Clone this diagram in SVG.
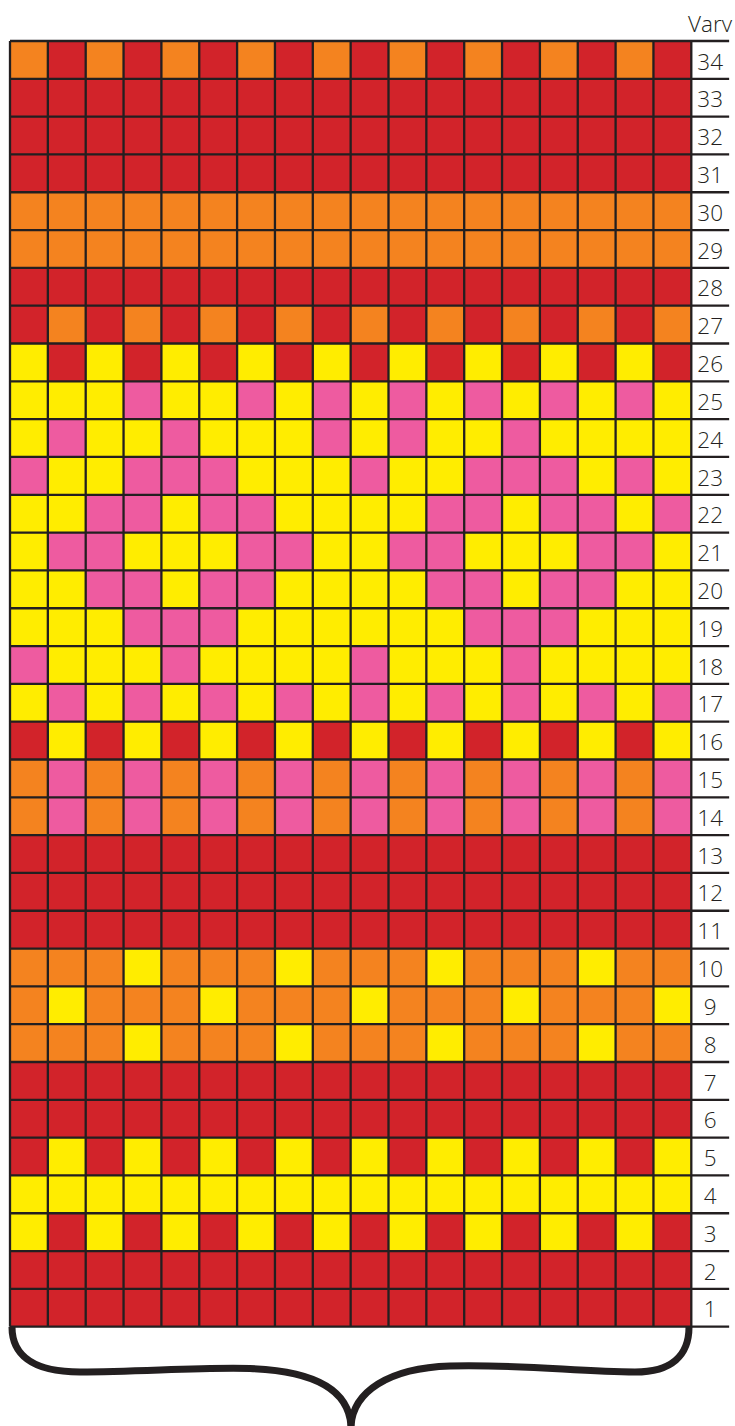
<svg xmlns="http://www.w3.org/2000/svg" width="735" height="1426" viewBox="0 0 735 1426">
<style>
.r{fill:#D2232A}.o{fill:#F4831F}.y{fill:#FFED00}.p{fill:#EE5BA0}
.grid{fill:none;stroke:#231F20;stroke-width:2.3}
.num{font-family:"Open Sans","Liberation Sans",sans-serif;font-weight:300;font-size:22.5px;fill:#231F20;text-anchor:middle}
.brace{fill:none;stroke:#231F20;stroke-width:7}
</style>
<defs>
<g id="alt"><rect x="0" y="0" width="1" height="1"/><rect x="2" y="0" width="1" height="1"/><rect x="4" y="0" width="1" height="1"/><rect x="6" y="0" width="1" height="1"/><rect x="8" y="0" width="1" height="1"/><rect x="10" y="0" width="1" height="1"/><rect x="12" y="0" width="1" height="1"/><rect x="14" y="0" width="1" height="1"/><rect x="16" y="0" width="1" height="1"/></g>
</defs>
<g id="chart" transform="translate(10 41) scale(37.85 37.815)">
<g id="cells">
<rect class="r" x="0" y="0" width="18" height="34"/>
<use href="#alt" x="0" y="0" class="o"/>
<rect class="o" x="0" y="4" width="18" height="2"/>
<use href="#alt" x="1" y="7" class="o"/>
<use href="#alt" x="0" y="8" class="y"/>
<rect class="y" x="0" y="9" width="18" height="9"/>
<g class="p">
<rect x="3" y="9" width="1" height="1"/><rect x="6" y="9" width="1" height="1"/><rect x="8" y="9" width="1" height="1"/><rect x="10" y="9" width="1" height="1"/><rect x="12" y="9" width="1" height="1"/><rect x="14" y="9" width="1" height="1"/><rect x="16" y="9" width="1" height="1"/>
<rect x="1" y="10" width="1" height="1"/><rect x="4" y="10" width="1" height="1"/><rect x="8" y="10" width="1" height="1"/><rect x="10" y="10" width="1" height="1"/><rect x="13" y="10" width="1" height="1"/>
<rect x="0" y="11" width="1" height="1"/><rect x="3" y="11" width="3" height="1"/><rect x="9" y="11" width="1" height="1"/><rect x="12" y="11" width="3" height="1"/><rect x="16" y="11" width="1" height="1"/>
<rect x="2" y="12" width="2" height="1"/><rect x="5" y="12" width="2" height="1"/><rect x="11" y="12" width="2" height="1"/><rect x="14" y="12" width="2" height="1"/><rect x="17" y="12" width="1" height="1"/>
<rect x="1" y="13" width="2" height="1"/><rect x="6" y="13" width="2" height="1"/><rect x="10" y="13" width="2" height="1"/><rect x="15" y="13" width="2" height="1"/>
<rect x="2" y="14" width="2" height="1"/><rect x="5" y="14" width="2" height="1"/><rect x="11" y="14" width="2" height="1"/><rect x="14" y="14" width="2" height="1"/>
<rect x="3" y="15" width="3" height="1"/><rect x="12" y="15" width="3" height="1"/>
<rect x="0" y="16" width="1" height="1"/><rect x="4" y="16" width="1" height="1"/><rect x="9" y="16" width="1" height="1"/><rect x="13" y="16" width="1" height="1"/>
</g>
<use href="#alt" x="1" y="17" class="p"/>
<use href="#alt" x="1" y="18" class="y"/>
<rect class="o" x="0" y="19" width="18" height="2"/>
<use href="#alt" x="1" y="19" class="p"/>
<use href="#alt" x="1" y="20" class="p"/>
<rect class="o" x="0" y="24" width="18" height="3"/>
<g class="y">
<rect x="3" y="24" width="1" height="1"/><rect x="7" y="24" width="1" height="1"/><rect x="11" y="24" width="1" height="1"/><rect x="15" y="24" width="1" height="1"/>
<rect x="1" y="25" width="1" height="1"/><rect x="5" y="25" width="1" height="1"/><rect x="9" y="25" width="1" height="1"/><rect x="13" y="25" width="1" height="1"/><rect x="17" y="25" width="1" height="1"/>
<rect x="3" y="26" width="1" height="1"/><rect x="7" y="26" width="1" height="1"/><rect x="11" y="26" width="1" height="1"/><rect x="15" y="26" width="1" height="1"/>
</g>
<use href="#alt" x="1" y="29" class="y"/>
<rect class="y" x="0" y="30" width="18" height="1"/>
<use href="#alt" x="0" y="31" class="y"/>
</g>
<path id="gridlines" class="grid" vector-effect="non-scaling-stroke" d="M0 0V34M1 0V34M2 0V34M3 0V34M4 0V34M5 0V34M6 0V34M7 0V34M8 0V34M9 0V34M10 0V34M11 0V34M12 0V34M13 0V34M14 0V34M15 0V34M16 0V34M17 0V34M18 0V34M0 0H19M0 1H19M0 2H19M0 3H19M0 4H19M0 5H19M0 6H19M0 7H19M0 8H19M0 9H19M0 10H19M0 11H19M0 12H19M0 13H19M0 14H19M0 15H19M0 16H19M0 17H19M0 18H19M0 19H19M0 20H19M0 21H19M0 22H19M0 23H19M0 24H19M0 25H19M0 26H19M0 27H19M0 28H19M0 29H19M0 30H19M0 31H19M0 32H19M0 33H19M0 34H19"/>
</g>
<g id="labels" class="num">
<text x="688" y="32" style="text-anchor:start">Varv</text>
<text x="710.2" y="69.5">34</text>
<text x="710.2" y="107.3">33</text>
<text x="710.2" y="145.1">32</text>
<text x="710.2" y="182.9">31</text>
<text x="710.2" y="220.8">30</text>
<text x="710.2" y="258.6">29</text>
<text x="710.2" y="296.4">28</text>
<text x="710.2" y="334.2">27</text>
<text x="710.2" y="372.0">26</text>
<text x="710.2" y="409.8">25</text>
<text x="710.2" y="447.7">24</text>
<text x="710.2" y="485.5">23</text>
<text x="710.2" y="523.3">22</text>
<text x="710.2" y="561.1">21</text>
<text x="710.2" y="598.9">20</text>
<text x="710.2" y="636.7">19</text>
<text x="710.2" y="674.5">18</text>
<text x="710.2" y="712.4">17</text>
<text x="710.2" y="750.2">16</text>
<text x="710.2" y="788.0">15</text>
<text x="710.2" y="825.8">14</text>
<text x="710.2" y="863.6">13</text>
<text x="710.2" y="901.4">12</text>
<text x="710.2" y="939.2">11</text>
<text x="710.2" y="977.1">10</text>
<text x="710.2" y="1014.9">9</text>
<text x="710.2" y="1052.7">8</text>
<text x="710.2" y="1090.5">7</text>
<text x="710.2" y="1128.3">6</text>
<text x="710.2" y="1166.1">5</text>
<text x="710.2" y="1204.0">4</text>
<text x="710.2" y="1241.8">3</text>
<text x="710.2" y="1279.6">2</text>
<text x="710.2" y="1317.4">1</text>
</g>
<g id="brace">
<path class="brace" d="M12 1327C12 1353 30 1372 80 1372C140 1372 200 1367 250 1368.5C318 1371 349 1392 351 1426"/>
<path class="brace" d="M351 1426C353 1392 388 1368 450 1366C520 1364 580 1372 635 1372C672 1372 689 1355 689 1327"/>
</g>
</svg>
